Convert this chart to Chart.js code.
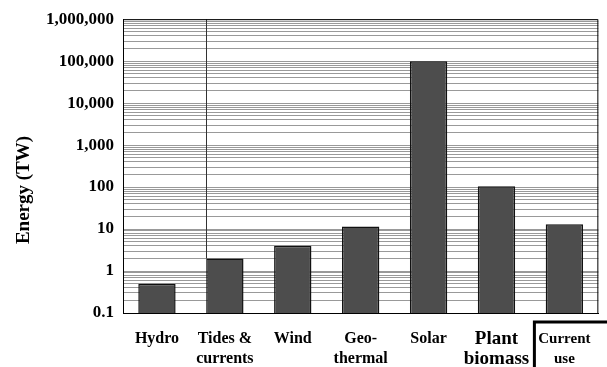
<!DOCTYPE html>
<html><head><meta charset="utf-8">
<script src="https://cdn.jsdelivr.net/npm/chart.js@4/dist/chart.umd.min.js"></script>
<style>html,body{margin:0;padding:0;background:#fff}</style>
</head><body>
<canvas id="c" width="607" height="367"></canvas>
<script>
// ---- data ----
const categories = [["Hydro"], ["Tides &", "currents"], ["Wind"], ["Geo-", "thermal"], ["Solar"], ["Plant", "biomass"], ["Current", "use"]];
const energyTW = [0.5, 2, 4, 11.5, 100000, 104, 13];
const yTickValues = [0.1, 1, 10, 100, 1000, 10000, 100000, 1000000];
const yTickLabels = ["0.1", "1", "10", "100", "1,000", "10,000", "100,000", "1,000,000"];
const labelFontSizes = [16, 16, 16, 16, 16, 19, 15];
const yTitle = "Energy (TW)";

const FONT = "'Liberation Serif', 'Times New Roman', serif";

// minor grid values (1..9 x decade) between the labelled decades
const gridValues = [];
for (let i = 0; i < yTickValues.length; i++) {
  const d = yTickValues[i];
  if (i === yTickValues.length - 1) { gridValues.push(d); break; }
  for (let m = 1; m <= 9; m++) gridValues.push(parseFloat((m * d).toPrecision(4)));
}
function labelFor(v) {
  for (let i = 0; i < yTickValues.length; i++) {
    if (Math.abs(v - yTickValues[i]) / yTickValues[i] < 1e-6) return yTickLabels[i];
  }
  return "";
}

const deco = {
  id: 'deco',
  beforeDatasetsDraw(chart) {
    const { ctx, chartArea: a } = chart;
    const bar = chart.getDatasetMeta(0).data[1];
    const x = Math.round(bar.x - bar.width / 2) + 0.5;
    ctx.save();
    ctx.strokeStyle = '#333';
    ctx.lineWidth = 1;
    ctx.beginPath();
    ctx.moveTo(x, a.top);
    ctx.lineTo(x, bar.y);
    ctx.stroke();
    ctx.restore();
  },
  afterDraw(chart) {
    const { ctx, chartArea: a } = chart;
    ctx.save();
    // top and right frame
    ctx.strokeStyle = '#000';
    ctx.lineWidth = 1;
    ctx.beginPath();
    ctx.moveTo(a.left, a.top + 0.5);
    ctx.lineTo(a.right - 0.5, a.top + 0.5);
    ctx.lineTo(a.right - 0.5, a.bottom);
    ctx.stroke();
    // y title
    ctx.fillStyle = '#000';
    ctx.font = "bold 19px " + FONT;
    ctx.textAlign = 'center';
    ctx.textBaseline = 'middle';
    ctx.translate(24, 190);
    ctx.rotate(-Math.PI / 2);
    ctx.fillText(yTitle, 0, 0);
    ctx.restore();
    // box around last category label
    const xs = chart.scales.x;
    const cx = xs.getPixelForTick(categories.length - 1);
    const left = cx - 30;
    const top = a.bottom + 9;
    ctx.save();
    ctx.strokeStyle = '#000';
    ctx.lineWidth = 3;
    ctx.beginPath();
    ctx.moveTo(left, chart.height);
    ctx.lineTo(left, top);
    ctx.lineTo(chart.width, top);
    ctx.stroke();
    ctx.restore();
  }
};

new Chart(document.getElementById('c'), {
  type: 'bar',
  data: {
    labels: categories,
    datasets: [{
      data: energyTW,
      backgroundColor: '#4d4d4d',
      borderColor: '#111',
      borderWidth: 1.5,
      borderSkipped: 'bottom',
      barPercentage: 0.55,
      categoryPercentage: 1
    }]
  },
  options: {
    responsive: false,
    animation: false,
    devicePixelRatio: 1,
    layout: { padding: { top: 15, right: 7, left: 0, bottom: 0 } },
    plugins: { legend: { display: false }, tooltip: { enabled: false } },
    scales: {
      x: {
        ticks: {
          color: '#000',
          padding: 16,
          maxRotation: 0,
          autoSkip: false,
          font: (ctx) => ({ family: FONT, weight: 'bold', size: labelFontSizes[ctx.index] || 16, lineHeight: '20px' })
        },
        grid: { display: false, drawTicks: false },
        border: { color: '#000', width: 1 },
        afterFit: (s) => { s.height = 54; }
      },
      y: {
        type: 'logarithmic',
        min: yTickValues[0],
        max: yTickValues[yTickValues.length - 1],
        afterBuildTicks: (s) => { s.ticks = gridValues.map(v => ({ value: v })); },
        ticks: {
          autoSkip: false,
          color: '#000',
          padding: 9,
          font: { family: FONT, weight: 'bold', size: 17 },
          callback: (v) => labelFor(v)
        },
        grid: { color: '#999', lineWidth: 1, drawTicks: false },
        border: { color: '#000', width: 1 },
        afterFit: (s) => { s.width = 123; }
      }
    }
  },
  plugins: [deco]
});
</script>
</body></html>
